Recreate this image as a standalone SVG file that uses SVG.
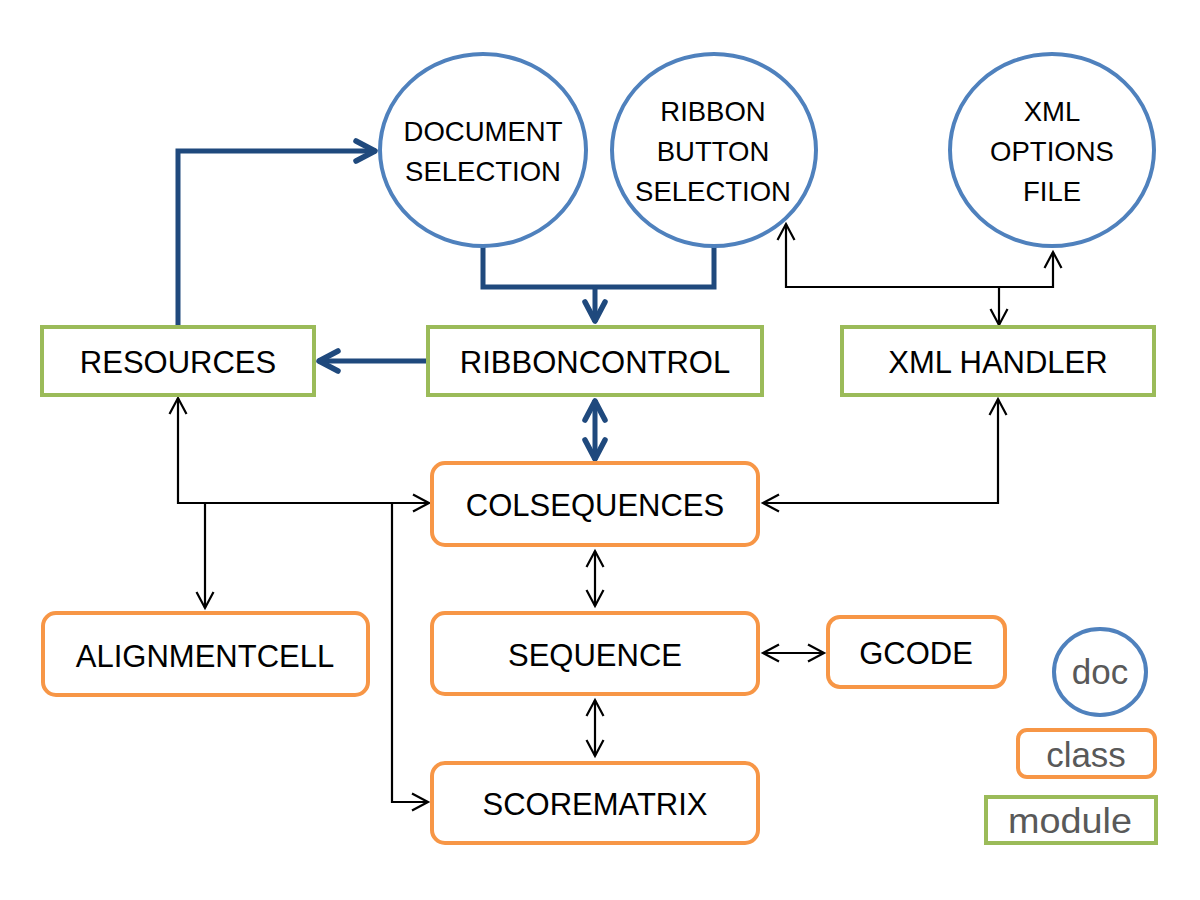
<svg xmlns="http://www.w3.org/2000/svg" width="1200" height="900" viewBox="0 0 1200 900">
<style>
.doc{fill:#fff;stroke:#4f81bd;stroke-width:4}
.mod{fill:#fff;stroke:#9bbb59;stroke-width:4}
.cls{fill:#fff;stroke:#f79646;stroke-width:4}
.t{font-family:"Liberation Sans",Arial,sans-serif;font-size:31px;fill:#000;text-anchor:middle}
.tc{font-family:"Liberation Sans",Arial,sans-serif;font-size:27.5px;fill:#000;text-anchor:middle}
.lg{font-family:"Liberation Sans",Arial,sans-serif;font-size:35px;fill:#595959;text-anchor:middle}
.blue{fill:none;stroke:#1f497d;stroke-width:5;stroke-linejoin:miter}
.blk{fill:none;stroke:#000;stroke-width:2.2}
</style>
<defs>
<marker id="ab" markerUnits="userSpaceOnUse" viewBox="-26 -15 30 30" refX="0" refY="0" markerWidth="30" markerHeight="30" orient="auto-start-reverse">
<path d="M-20,-10 L-1,0 L-20,10" fill="none" stroke="#1f497d" stroke-width="5.5" stroke-linejoin="round" stroke-linecap="round"/>
</marker>
<marker id="ak" markerUnits="userSpaceOnUse" viewBox="-20 -12 24 24" refX="0" refY="0" markerWidth="24" markerHeight="24" orient="auto-start-reverse">
<path d="M-16,-8.5 L0,0 L-16,8.5" fill="none" stroke="#000" stroke-width="2.2" stroke-linejoin="miter"/>
</marker>
</defs>
<rect width="1200" height="900" fill="#fff"/>

<g id="connectors">
<path class="blue" d="M178,326 V151 H376" marker-end="url(#ab)"/>
<path class="blue" d="M483,246 V287 H714 V246"/>
<path class="blue" d="M595,287 V322" marker-end="url(#ab)"/>
<path class="blue" d="M428,361 H318" marker-end="url(#ab)"/>
<path class="blue" d="M595,400 V460" marker-start="url(#ab)" marker-end="url(#ab)"/>
<path class="blk" d="M786,224 V287 H1053 V252" marker-start="url(#ak)" marker-end="url(#ak)"/>
<path class="blk" d="M999,287 V325" marker-end="url(#ak)"/>
<path class="blk" d="M178,398 V503 H429" marker-start="url(#ak)" marker-end="url(#ak)"/>
<path class="blk" d="M205,503 V608" marker-end="url(#ak)"/>
<path class="blk" d="M392,503 V802 H428" marker-end="url(#ak)"/>
<path class="blk" d="M998,399 V503 H763" marker-start="url(#ak)" marker-end="url(#ak)"/>
<path class="blk" d="M595,551 V606" marker-start="url(#ak)" marker-end="url(#ak)"/>
<path class="blk" d="M595,700 V756" marker-start="url(#ak)" marker-end="url(#ak)"/>
<path class="blk" d="M763,653 H824" marker-start="url(#ak)" marker-end="url(#ak)"/>
</g>

<g id="doc-selection">
<ellipse class="doc" cx="483" cy="150" rx="103" ry="96"/>
<text class="tc" x="483" y="141">DOCUMENT</text>
<text class="tc" x="483" y="181">SELECTION</text>
</g>
<g id="ribbon-button-selection">
<ellipse class="doc" cx="714" cy="150" rx="102" ry="96"/>
<text class="tc" x="713" y="121">RIBBON</text>
<text class="tc" x="713" y="161">BUTTON</text>
<text class="tc" x="713" y="201">SELECTION</text>
</g>
<g id="xml-options-file">
<ellipse class="doc" cx="1052" cy="150" rx="102" ry="96"/>
<text class="tc" x="1052" y="121">XML</text>
<text class="tc" x="1052" y="161">OPTIONS</text>
<text class="tc" x="1052" y="201">FILE</text>
</g>

<g id="resources">
<rect class="mod" x="42" y="327" width="272" height="68"/>
<text class="t" x="178" y="373">RESOURCES</text>
</g>
<g id="ribboncontrol">
<rect class="mod" x="428" y="327" width="334" height="68"/>
<text class="t" x="595" y="373">RIBBONCONTROL</text>
</g>
<g id="xml-handler">
<rect class="mod" x="842" y="327" width="312" height="68"/>
<text class="t" x="998" y="373">XML HANDLER</text>
</g>

<g id="colsequences">
<rect class="cls" x="432" y="463" width="326" height="82" rx="13"/>
<text class="t" x="595" y="516">COLSEQUENCES</text>
</g>
<g id="alignmentcell">
<rect class="cls" x="43" y="613" width="325" height="82" rx="13"/>
<text class="t" x="205" y="667">ALIGNMENTCELL</text>
</g>
<g id="sequence">
<rect class="cls" x="432" y="613" width="326" height="81" rx="13"/>
<text class="t" x="595" y="666">SEQUENCE</text>
</g>
<g id="gcode">
<rect class="cls" x="828" y="617" width="177" height="70" rx="12"/>
<text class="t" x="916" y="664">GCODE</text>
</g>
<g id="scorematrix">
<rect class="cls" x="432" y="763" width="326" height="80" rx="13"/>
<text class="t" x="595" y="815">SCOREMATRIX</text>
</g>

<g id="legend-doc">
<ellipse class="doc" cx="1100" cy="672" rx="46" ry="43"/>
<text class="lg" x="1100" y="684">doc</text>
</g>
<g id="legend-class">
<rect class="cls" x="1018" y="730" width="137" height="47" rx="9"/>
<text class="lg" x="1086" y="767">class</text>
</g>
<g id="legend-module">
<rect class="mod" x="986" y="797" width="170" height="46"/>
<text class="lg" x="1070" y="833" textLength="124" lengthAdjust="spacingAndGlyphs">module</text>
</g>
</svg>
